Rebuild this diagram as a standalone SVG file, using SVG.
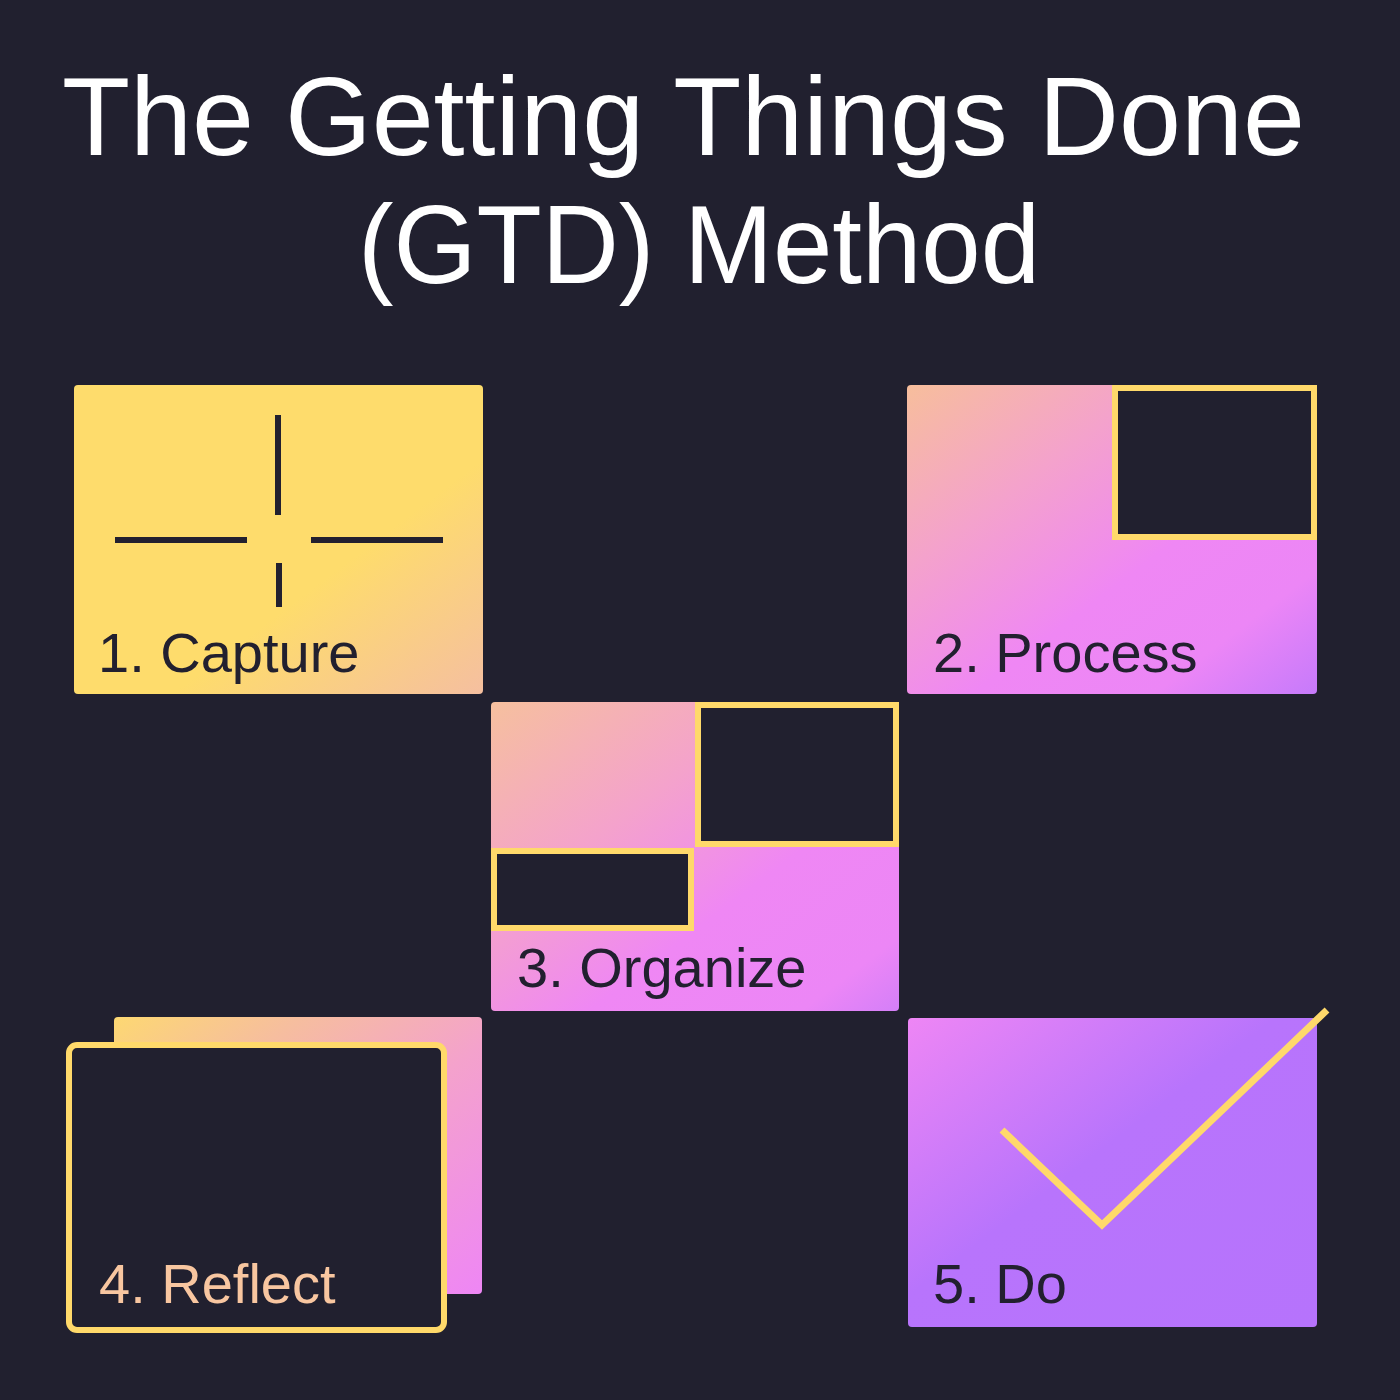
<svg xmlns="http://www.w3.org/2000/svg" width="1400" height="1400" viewBox="0 0 1400 1400">
<defs>
<linearGradient id="gY" x1="0" y1="0" x2="1" y2="1">
<stop offset="0" stop-color="#FEDC6C"/><stop offset="0.62" stop-color="#FEDC6C"/><stop offset="1" stop-color="#F5BFA0"/>
</linearGradient>
<linearGradient id="gP" x1="0" y1="0" x2="1" y2="1">
<stop offset="0" stop-color="#F7BE9C"/><stop offset="0.3" stop-color="#F4A2CC"/><stop offset="0.58" stop-color="#EF87F4"/><stop offset="0.8" stop-color="#EC86F6"/><stop offset="1" stop-color="#C67AFB"/>
</linearGradient>
<linearGradient id="gO" x1="0" y1="0" x2="1" y2="1">
<stop offset="0" stop-color="#F6C09E"/><stop offset="0.35" stop-color="#F4A2CC"/><stop offset="0.62" stop-color="#EF87F4"/><stop offset="0.88" stop-color="#EC86F6"/><stop offset="1" stop-color="#D47FF8"/>
</linearGradient>
<linearGradient id="gR" x1="0" y1="0" x2="1" y2="1">
<stop offset="0" stop-color="#FDD872"/><stop offset="0.25" stop-color="#F6BE9E"/><stop offset="0.55" stop-color="#F4A2CC"/><stop offset="1" stop-color="#EE86F5"/>
</linearGradient>
<linearGradient id="gD" x1="0" y1="0" x2="1" y2="1">
<stop offset="0" stop-color="#EE86F5"/><stop offset="0.45" stop-color="#B874FC"/><stop offset="1" stop-color="#B673FC"/>
</linearGradient>
</defs>
<style>
.title{font-family:"Liberation Sans",Arial,sans-serif;font-size:112px;fill:#FFFFFF;}
.lbl{font-family:"Liberation Sans",Arial,sans-serif;font-size:56px;fill:#22202F;}
.ink{stroke:#22202F;stroke-width:6;fill:none;}
.ybox{fill:#21202F;stroke:#FFD96A;stroke-width:6;}
</style>
<rect x="0" y="0" width="1400" height="1400" fill="#21202F"/>
<g id="title">
<text class="title" x="62" y="155" textLength="1243" lengthAdjust="spacingAndGlyphs">The Getting Things Done</text>
<text class="title" x="358" y="283" textLength="682" lengthAdjust="spacingAndGlyphs">(GTD) Method</text>
</g>
<g id="capture">
<rect x="74" y="385" width="409" height="309" rx="4" fill="url(#gY)"/>
<line class="ink" x1="278" y1="415" x2="278" y2="515"/>
<line class="ink" x1="279" y1="563" x2="279" y2="607"/>
<line class="ink" x1="115" y1="540" x2="247" y2="540"/>
<line class="ink" x1="311" y1="540" x2="443" y2="540"/>
<text class="lbl" x="98" y="672">1. Capture</text>
</g>
<g id="process">
<rect x="907" y="385" width="410" height="309" rx="4" fill="url(#gP)"/>
<rect class="ybox" x="1115" y="388" width="199" height="149"/>
<text class="lbl" x="933" y="672">2. Process</text>
</g>
<g id="organize">
<rect x="491" y="702" width="408" height="309" rx="4" fill="url(#gO)"/>
<rect class="ybox" x="698" y="705" width="198" height="139"/>
<rect class="ybox" x="494" y="851" width="197" height="77"/>
<text class="lbl" x="517" y="987">3. Organize</text>
</g>
<g id="reflect">
<rect x="114" y="1017" width="368" height="277" rx="4" fill="url(#gR)"/>
<rect class="ybox" x="69" y="1045" width="375" height="285" rx="8"/>
<text class="lbl" x="99" y="1303" style="fill:#F8C6A0">4. Reflect</text>
</g>
<g id="do">
<rect x="908" y="1018" width="409" height="309" rx="4" fill="url(#gD)"/>
<polyline points="1002,1130 1102,1225 1327,1010" fill="none" stroke="#FFD96A" stroke-width="7"/>
<text class="lbl" x="933" y="1303">5. Do</text>
</g>
</svg>
